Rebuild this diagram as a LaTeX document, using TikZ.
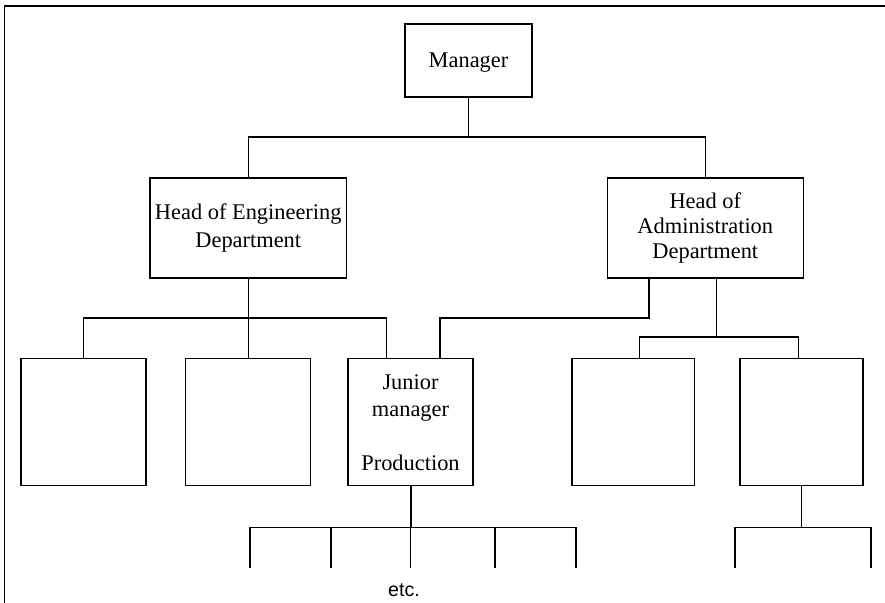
\documentclass[tikz,border=0pt]{standalone}
\usepackage{fontspec}
\setmainfont{Liberation Serif}
\newfontfamily\etcfont{Liberation Sans}
\begin{document}
\begin{tikzpicture}[x=0.5pt,y=-0.5pt,
  line width=0.55pt,
  every node/.style={font=\fontsize{11.2}{13.5}\selectfont},
  box/.style={draw,rectangle,inner sep=0pt,align=center},
  topbox/.style={box,minimum width=63.5pt,minimum height=36.5pt,text depth=0pt},
  headbox/.style={box,minimum width=98.25pt,minimum height=50pt},
  unitbox/.style={box,minimum width=62.5pt,minimum height=63.35pt}]
\useasboundingbox (0,0) rectangle (885,603);

% outer frame (top and left edges)
\draw (4.5,603) -- (4.5,6) -- (885,6);

% boxes
\node[topbox] (mgr) at (468.5,60.5) {Manager};
\node[headbox] (heng) at (248.25,228) {\raisebox{-2pt}{\shortstack{Head of Engineering\\[1.7pt]Department}}};
\node[headbox] (hadm) at (705.3,228) {\raisebox{-2pt}{\shortstack{Head of\\[1.7pt]Administration\\[1.7pt]Department}}};
\node[unitbox] (b1) at (83.5,422.3) {};
\node[unitbox] (b2) at (248.25,422.3) {};
\node[unitbox] (jr) at (410.5,422.3) {Junior\\manager\\[13.5pt]Production};
\node[unitbox,minimum width=61.35pt] (b4) at (633.3,422.3) {};
\node[unitbox,minimum width=61.5pt] (b5) at (801.5,422.3) {};

% bar levels
\coordinate (y1) at (0,137);
\coordinate (y2) at (0,318);
\coordinate (y3) at (0,337);
\coordinate (y4) at (0,527.7);

% attachment points
\coordinate (jrL) at (386.6,359);
\coordinate (jrR) at (440,359);
\coordinate (admL) at (649,278);
\coordinate (admR) at (716.7,278);
\coordinate (b4T) at (639.4,359);
\coordinate (b5T) at (798.5,359);
\coordinate (e1) at (250,568);
\coordinate (e2) at (331,568);
\coordinate (e3) at (410.5,568);
\coordinate (e4) at (495,568);
\coordinate (e5) at (576,568);
\coordinate (f1) at (735,568);
\coordinate (f2) at (871,568);

% manager to department heads
\draw (mgr.south) -- (mgr.south |- y1);
\draw (heng.north) |- (hadm.north |- y1) -- (hadm.north);

% engineering branch
\draw (heng.south) -- (b2.north);
\draw (b1.north) |- (jrL |- y2) -- (jrL);

% administration branch
\draw (admL) |- (jrR |- y2) -- (jrR);
\draw (admR) -- (admR |- y3);
\draw (b4T) |- (b5T |- y3) -- (b5T);

% production staff
\draw[line width=1pt] (jr.south) -- (jr.south |- y4);
\draw (jr.south |- y4) -- (e3);
\draw (e1) |- (e5 |- y4) -- (e5);
\draw (e2) -- (e2 |- y4);
\draw (e4) -- (e4 |- y4);

% staff below the right unit
\draw (b5.south) -- (b5.south |- y4);
\draw (f1) |- (f2 |- y4) -- (f2);

\node[font=\etcfont\fontsize{9.8}{11}\selectfont] (etc) at (404,590) {etc.};
\end{tikzpicture}
\end{document}
